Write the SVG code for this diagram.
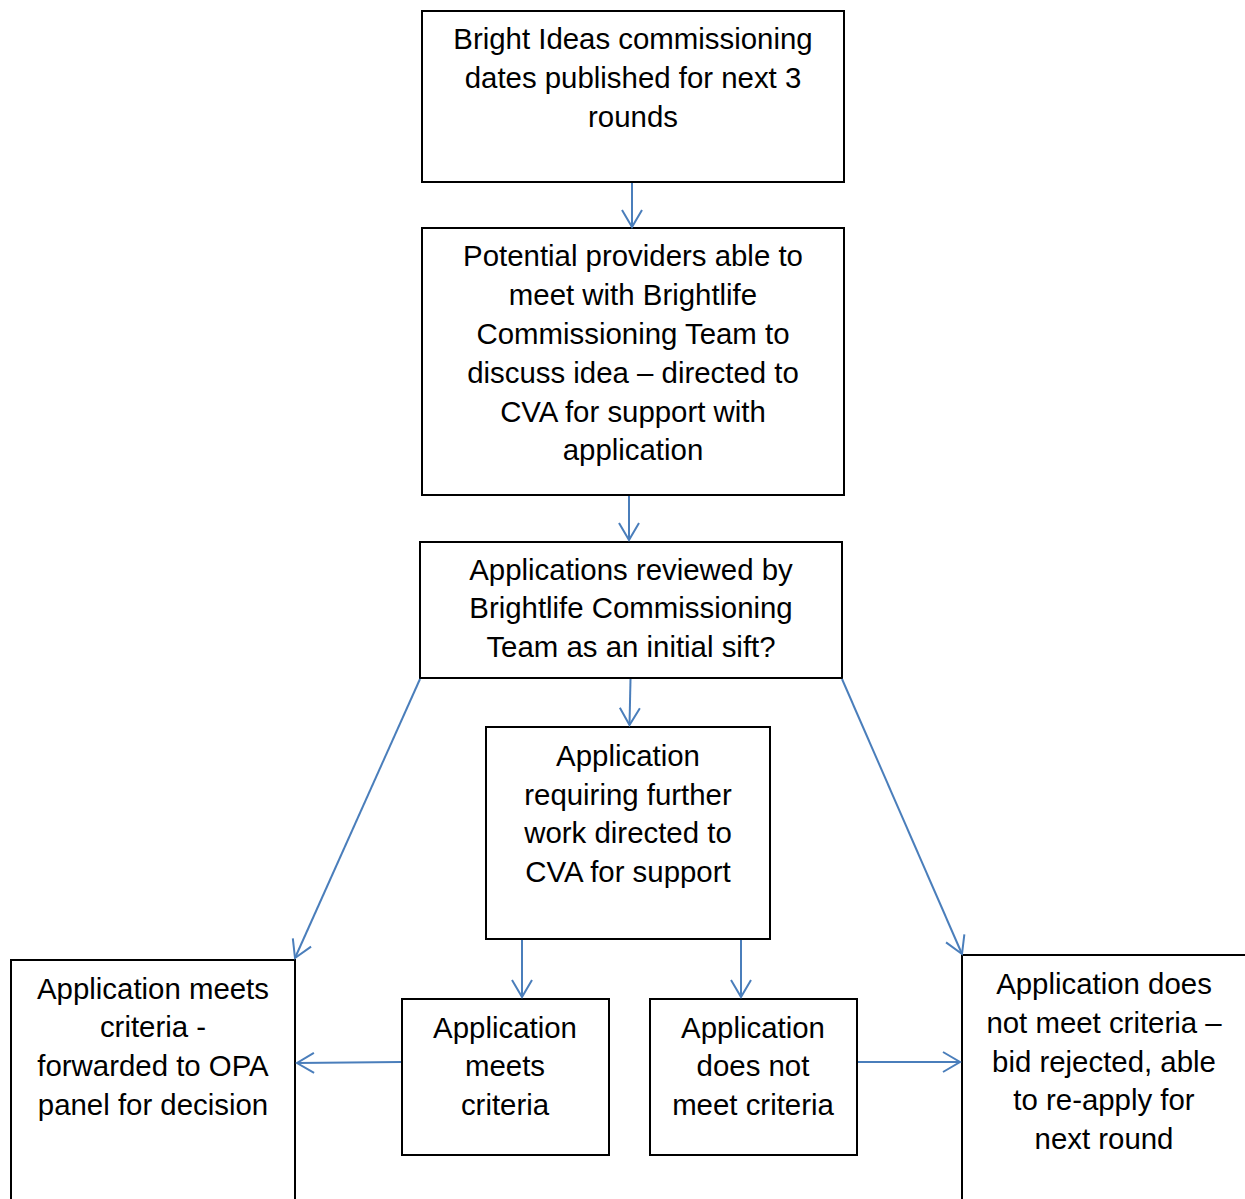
<svg xmlns="http://www.w3.org/2000/svg" width="1245" height="1199" viewBox="0 0 1245 1199">
<style>
.box{fill:#fff;stroke:#000;stroke-width:2}
.t{font-family:"Liberation Sans",Arial,sans-serif;font-size:29.4px;fill:#000;text-anchor:middle}
.c{fill:none;stroke:#4a7ebb;stroke-width:2;marker-end:url(#ah)}
</style>
<defs>
<marker id="ah" markerUnits="userSpaceOnUse" markerWidth="24" markerHeight="24" viewBox="-20 -12 24 24" refX="0" refY="0" orient="auto">
<path d="M-17,-10 L0,0 L-17,10" fill="none" stroke="#4a7ebb" stroke-width="2"/>
</marker>
</defs>
<rect width="1245" height="1199" fill="#fff"/>
<g id="n1"><rect class="box" x="422" y="11" width="422" height="171"/>
<text class="t"><tspan x="633" y="49">Bright Ideas commissioning</tspan><tspan x="633" y="88">dates published for next 3</tspan><tspan x="633" y="127">rounds</tspan></text></g>
<g id="n2"><rect class="box" x="422" y="228" width="422" height="267"/>
<text class="t"><tspan x="633" y="266">Potential providers able to</tspan><tspan x="633" y="305">meet with Brightlife</tspan><tspan x="633" y="344">Commissioning Team to</tspan><tspan x="633" y="383">discuss idea – directed to</tspan><tspan x="633" y="422">CVA for support with</tspan><tspan x="633" y="460">application</tspan></text></g>
<g id="n3"><rect class="box" x="420" y="542" width="422" height="136"/>
<text class="t"><tspan x="631" y="580">Applications reviewed by</tspan><tspan x="631" y="618">Brightlife Commissioning</tspan><tspan x="631" y="657">Team as an initial sift?</tspan></text></g>
<g id="n4"><rect class="box" x="486" y="727" width="284" height="212"/>
<text class="t"><tspan x="628" y="766">Application</tspan><tspan x="628" y="805">requiring further</tspan><tspan x="628" y="843">work directed to</tspan><tspan x="628" y="882">CVA for support</tspan></text></g>
<g id="n5"><rect class="box" x="11" y="960" width="284" height="245"/>
<text class="t"><tspan x="153" y="999">Application meets</tspan><tspan x="153" y="1037">criteria -</tspan><tspan x="153" y="1076">forwarded to OPA</tspan><tspan x="153" y="1115">panel for decision</tspan></text></g>
<g id="n6"><rect class="box" x="402" y="999" width="207" height="156"/>
<text class="t"><tspan x="505" y="1038">Application</tspan><tspan x="505" y="1076">meets</tspan><tspan x="505" y="1115">criteria</tspan></text></g>
<g id="n7"><rect class="box" x="650" y="999" width="207" height="156"/>
<text class="t"><tspan x="753" y="1038">Application</tspan><tspan x="753" y="1076">does not</tspan><tspan x="753" y="1115">meet criteria</tspan></text></g>
<g id="n8"><rect class="box" x="962" y="955" width="290" height="250"/>
<text class="t"><tspan x="1104" y="994">Application does</tspan><tspan x="1104" y="1033">not meet criteria –</tspan><tspan x="1104" y="1072">bid rejected, able</tspan><tspan x="1104" y="1110">to re-apply for</tspan><tspan x="1104" y="1149">next round</tspan></text></g>
<g id="connectors">
<line class="c" x1="632" y1="183" x2="632" y2="227"/>
<line class="c" x1="629" y1="496" x2="629" y2="540"/>
<line class="c" x1="630.5" y1="679" x2="629.5" y2="725"/>
<line class="c" x1="420" y1="679" x2="295" y2="958"/>
<line class="c" x1="842" y1="679" x2="962" y2="954"/>
<line class="c" x1="522" y1="940" x2="522" y2="997"/>
<line class="c" x1="741" y1="940" x2="741" y2="997"/>
<line class="c" x1="401" y1="1062" x2="297" y2="1063"/>
<line class="c" x1="858" y1="1062" x2="960" y2="1062"/>
</g>
</svg>
